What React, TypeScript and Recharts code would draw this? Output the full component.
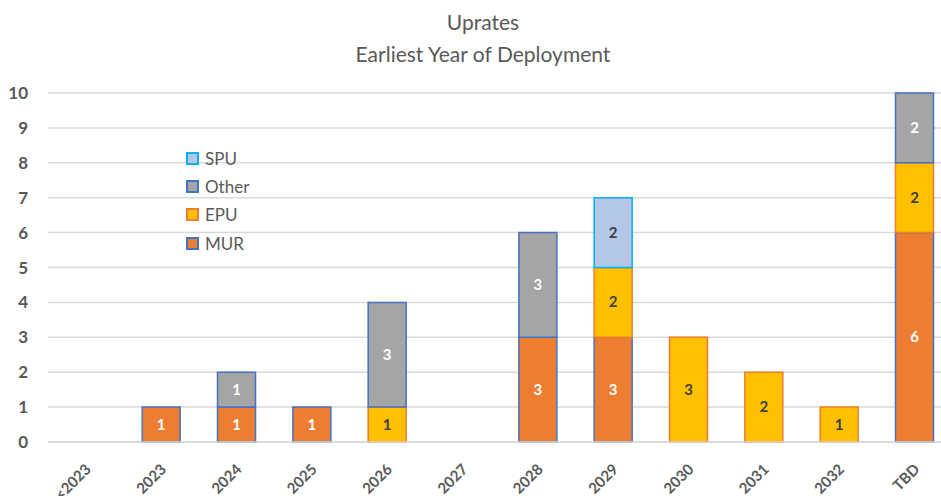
import React from "react";
import { BarChart, Bar, XAxis, YAxis, CartesianGrid, LabelList } from "recharts";

const years = ["<2023", "2023", "2024", "2025", "2026", "2027", "2028", "2029", "2030", "2031", "2032", "TBD"];
const mur = [0, 1, 1, 1, 0, 0, 3, 3, 0, 0, 0, 6];
const epu = [0, 0, 0, 0, 1, 0, 0, 2, 3, 2, 1, 2];
const other = [0, 0, 1, 0, 3, 0, 3, 0, 0, 0, 0, 2];
const spu = [0, 0, 0, 0, 0, 0, 0, 2, 0, 0, 0, 0];
const yTicks = [0, 1, 2, 3, 4, 5, 6, 7, 8, 9, 10];

const data = years.map((year, i) => ({
  year,
  MUR: mur[i],
  EPU: epu[i],
  Other: other[i],
  SPU: spu[i],
}));

const FONT = "Lato, 'Open Sans', sans-serif";
const GREY = "#595959";

const series = [
  { key: "MUR", fill: "#ED7D31", stroke: "#4472C4", text: "#ffffff" },
  { key: "EPU", fill: "#FFC000", stroke: "#ED7D31", text: "#404040" },
  { key: "Other", fill: "#A5A5A5", stroke: "#4472C4", text: "#ffffff" },
  { key: "SPU", fill: "#B4C7E7", stroke: "#00B0F0", text: "#404040" },
];

const makeLabel = (color: string) => (props: any) => {
  const { x, y, width, height, value } = props;
  if (!value) return null;
  return (
    <text
      x={x + width / 2}
      y={y + height / 2}
      dy={5}
      textAnchor="middle"
      fill={color}
      fontFamily={FONT}
      fontWeight="bold"
      fontSize={15}
    >
      {value}
    </text>
  );
};

const XTick = ({ x, y, payload }: any) => (
  <g transform={`translate(${x + 2},${y + 16})`}>
    <text
      x={0}
      y={0}
      dy={6}
      textAnchor="end"
      transform="rotate(-45)"
      fill={GREY}
      fontFamily={FONT}
      fontWeight="bold"
      fontSize={15}
    >
      {payload.value}
    </text>
  </g>
);

const LegendBox = () => {
  const items = [...series].reverse();
  return (
    <div style={{ position: "absolute", left: 186, top: 144, fontFamily: FONT }}>
      {items.map((s) => (
        <div key={s.key} style={{ display: "flex", alignItems: "center", height: 28.3 }}>
          <span
            style={{
              display: "inline-block",
              width: 9,
              height: 9,
              background: s.fill,
              border: `2px solid ${s.stroke}`,
              marginRight: 6,
            }}
          />
          <span style={{ fontSize: 17, color: GREY }}>{s.key}</span>
        </div>
      ))}
    </div>
  );
};

export default function App() {
  return (
    <div
      style={{
        position: "absolute",
        left: 0,
        top: 0,
        width: 941,
        height: 496,
        overflow: "hidden",
        background: "#fff",
      }}
    >
      <div
        style={{
          position: "absolute",
          left: 0,
          top: 6,
          width: 966,
          textAlign: "center",
          fontFamily: FONT,
          color: GREY,
          fontSize: 21,
          lineHeight: "32px",
        }}
      >
        <div>Uprates</div>
        <div>Earliest Year of Deployment</div>
      </div>
      <BarChart
        width={960}
        height={496}
        data={data}
        margin={{ top: 93, right: 8, bottom: 0, left: 0 }}
        barCategoryGap="25%"
      >
        <CartesianGrid vertical={false} stroke="#d9d9d9" strokeWidth={1.5} />
        <XAxis
          dataKey="year"
          tick={<XTick />}
          tickLine={false}
          axisLine={{ stroke: "#d9d9d9", strokeWidth: 1.5 }}
          interval={0}
          height={54}
        />
        <YAxis
          domain={[0, 10]}
          ticks={yTicks}
          width={48}
          tickLine={false}
          axisLine={false}
          tickMargin={14}
          tick={{ fill: GREY, fontFamily: FONT, fontWeight: "bold", fontSize: 17 }}
        />
        {series.map((s) => (
          <Bar
            key={s.key}
            dataKey={s.key}
            stackId="a"
            fill={s.fill}
            stroke={s.stroke}
            strokeWidth={1.5}
            isAnimationActive={false}
          >
            <LabelList dataKey={s.key} content={makeLabel(s.text)} />
          </Bar>
        ))}
      </BarChart>
      <LegendBox />
    </div>
  );
}
